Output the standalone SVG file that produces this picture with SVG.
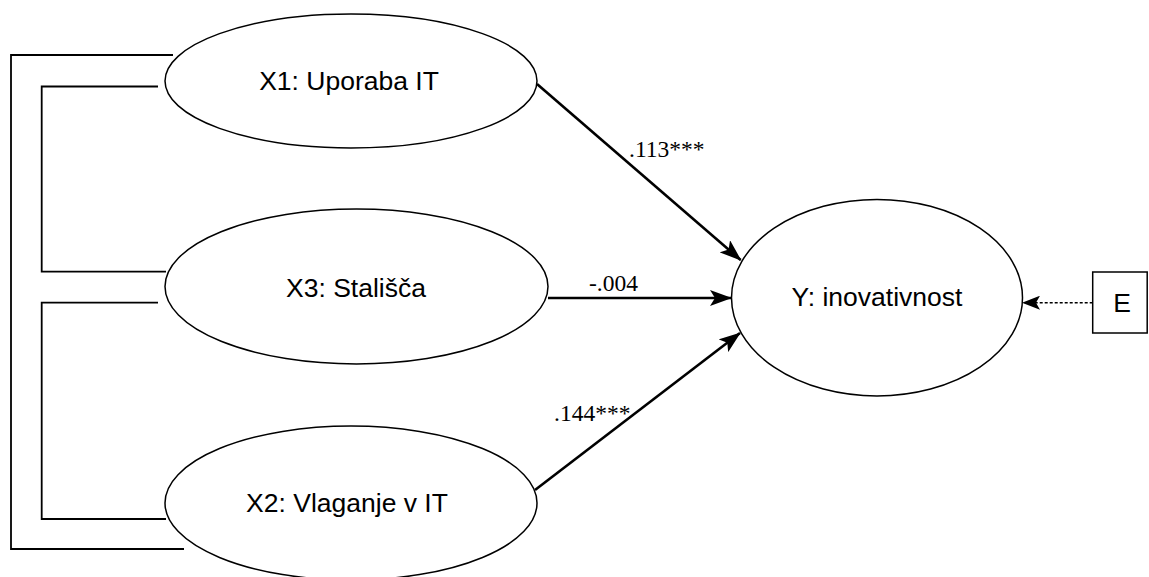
<svg xmlns="http://www.w3.org/2000/svg" width="1149" height="577" viewBox="0 0 1149 577">
<style>
.node{fill:#fff;stroke:#000;stroke-width:1.5}
.lbl{font-family:"Liberation Sans",Arial,sans-serif;font-size:26.5px;fill:#000;text-anchor:middle}
.coef{font-family:"Liberation Serif","Times New Roman",serif;font-size:23.5px;fill:#000}
.arr{fill:none;stroke:#000;stroke-width:2.6}
.cov{fill:none;stroke:#000;stroke-width:1.8}
.dot{fill:none;stroke:#000;stroke-width:1.5;stroke-dasharray:3 2}
</style>
<defs>
<marker id="ah" markerUnits="userSpaceOnUse" markerWidth="22" markerHeight="16" viewBox="0 0 22 16" refX="21" refY="8" orient="auto">
<path d="M0,0 L22,8 L0,16 L5,8 Z" fill="#000"/>
</marker>
<marker id="ahs" markerUnits="userSpaceOnUse" markerWidth="18" markerHeight="14" viewBox="0 0 18 14" refX="17" refY="7" orient="auto">
<path d="M0,0 L18,7 L0,14 L4,7 Z" fill="#000"/>
</marker>
</defs>
<rect width="1149" height="577" fill="#fff"/>
<g id="connectors">
<polyline class="cov" points="173,55 11,55 11,549 184,549"/>
<polyline class="cov" points="158,86.5 41.7,86.5 41.7,271.7 166,271.7"/>
<polyline class="cov" points="158,302.7 41.7,302.7 41.7,519 166,519"/>
<line class="arr" x1="537" y1="84" x2="740.7" y2="260" marker-end="url(#ah)"/>
<line class="arr" x1="548" y1="298" x2="731" y2="298" marker-end="url(#ah)"/>
<line class="arr" x1="535" y1="490" x2="740" y2="333" marker-end="url(#ah)"/>
<line class="dot" x1="1092.7" y1="302.7" x2="1023" y2="302.7" marker-end="url(#ahs)"/>
<text class="coef" x="629" y="157">.113***</text>
<text class="coef" x="589" y="291">-.004</text>
<text class="coef" x="554" y="421">.144***</text>
</g>
<g id="X1">
<ellipse class="node" cx="351" cy="81" rx="186" ry="67"/>
<text class="lbl" x="349" y="90">X1: Uporaba IT</text>
</g>
<g id="X3">
<ellipse class="node" cx="356.5" cy="286.5" rx="191.5" ry="77.5"/>
<text class="lbl" x="356" y="297">X3: Stališča</text>
</g>
<g id="X2">
<ellipse class="node" cx="351" cy="503" rx="186" ry="77"/>
<text class="lbl" x="347" y="512">X2: Vlaganje v IT</text>
</g>
<g id="Y">
<ellipse class="node" cx="877" cy="297.7" rx="145.5" ry="98.3"/>
<text class="lbl" x="877" y="306">Y: inovativnost</text>
</g>
<g id="E">
<rect class="node" x="1092.7" y="272" width="54.5" height="61"/>
<text class="lbl" x="1122" y="312">E</text>
</g>
</svg>
